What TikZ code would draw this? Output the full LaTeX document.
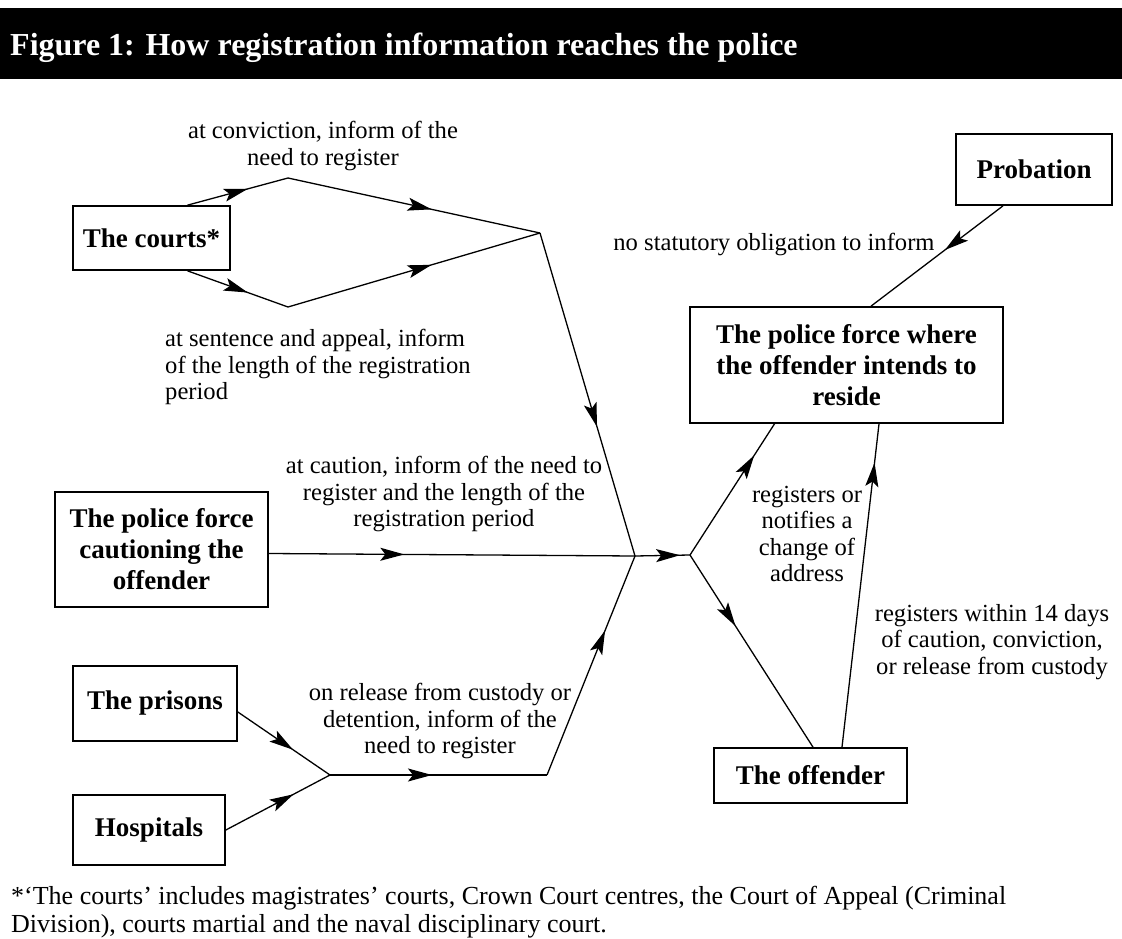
\documentclass[tikz,border=0pt]{standalone}
\usepackage{fontspec}
\setmainfont{Liberation Serif}
\usetikzlibrary{arrows.meta, decorations.markings}
\tikzstyle{agency} = [rectangle, draw=black, line width=1.7pt, align=center, inner sep=0, font=\fontsize{27}{31}\selectfont\bfseries]
\tikzstyle{note} = [align=center, inner sep=0, font=\fontsize{24.6}{26.6}\selectfont]
\tikzstyle{flow} = [line width=1.3pt]
\tikzset{midarrow/.style={postaction={decorate}, decoration={markings, mark=at position #1 with {\arrow{Stealth[length=24pt, width=13pt, inset=5pt]}}}}}

\begin{document}
\begin{tikzpicture}[x=1pt, y=-1pt]
\useasboundingbox (0,0) rectangle (1122,939);
\fill[black] (0,8) rectangle (1122,79);
\node (title) [anchor=base west, text=white, inner sep=0, font=\fontsize{32}{36}\selectfont\bfseries] at (10,56) {Figure 1: How registration information reaches the police};

% agencies
\node (courts) [agency, minimum width=157pt, minimum height=64pt] at (151.5,238) {The courts*};
\node (probation) [agency, minimum width=156pt, minimum height=71pt] at (1034,169.5) {Probation};
\node (residence) [agency, minimum width=313pt, minimum height=116pt] at (846.5,365) {The police force where\\the offender intends to\\reside};
\node (caution) [agency, minimum width=213pt, minimum height=115pt] at (161.5,549.5) {The police force\\cautioning the\\offender};
\node (prisons) [agency, minimum width=164pt, minimum height=75pt] at (155,703.5) {The prisons};
\node (hospitals) [agency, minimum width=152pt, minimum height=70pt] at (149,830) {Hospitals};
\node (offender) [agency, minimum width=193pt, minimum height=55pt] at (810.5,775.5) {The offender};

% junctions
\coordinate (cup) at (288,178);
\coordinate (clow) at (288,307);
\coordinate (cjoin) at (540,233);
\coordinate (hub) at (635,556);
\coordinate (fork) at (690,555);
\coordinate (pjoin) at (330,775);
\coordinate (pbend) at (547,775);

\draw [flow, midarrow=0.6] ([xshift=36pt]courts.north) -- (cup);
\draw [flow, midarrow=0.57] (cup) -- (cjoin);
\draw [flow, midarrow=0.6] ([xshift=36pt]courts.south) -- (clow);
\draw [flow, midarrow=0.57] (clow) -- (cjoin);
\draw [flow, midarrow=0.6] (cjoin) -- (hub);
\draw [flow, midarrow=0.37] ([yshift=-4pt]caution.east) -- (hub);
\draw [flow, midarrow=0.82] (hub) -- (fork);
\draw [flow, midarrow=0.76] (fork) -- ([xshift=-72pt]residence.south);
\draw [flow, midarrow=0.37] (fork) -- ([xshift=2.5pt]offender.north);
\draw [flow, midarrow=0.88] ([xshift=31.5pt]offender.north) -- ([xshift=32.5pt]residence.south);
\draw [flow, midarrow=0.44] ([xshift=-31pt]probation.south) -- ([xshift=24.5pt]residence.north);
\draw [flow, midarrow=0.6] ([yshift=-8.5pt]prisons.east) -- (pjoin);
\draw [flow, midarrow=0.65] (hospitals.east) -- (pjoin);
\draw [flow, midarrow=0.47] (pjoin) -- (pbend);
\draw [flow, midarrow=0.66] (pbend) -- (hub);

% labels
\node (convnote) [note] at (323,146) {at conviction, inform of the\\need to register};
\node (sentnote) [note, align=left, anchor=west] at (165,367) {at sentence and appeal, inform\\of the length of the registration\\period};
\node (cautnote) [note] at (444,494) {at caution, inform of the need to\\register and the length of the\\registration period};
\node (releasenote) [note] at (440,721) {on release from custody or\\detention, inform of the\\need to register};
\node (probnote) [note] at (774,244) {no statutory obligation to inform};
\node (addrnote) [note] at (807,534) {registers or\\notifies a\\change of\\address};
\node (daysnote) [note] at (992,642) {registers within 14 days\\of caution, conviction,\\or release from custody};
\node (footnote) [note, align=left, anchor=west, font=\fontsize{26}{28}\selectfont] at (11,912) {*`The courts' includes magistrates' courts, Crown Court centres, the Court of Appeal (Criminal\\Division), courts martial and the naval disciplinary court.};
\end{tikzpicture}
\end{document}
